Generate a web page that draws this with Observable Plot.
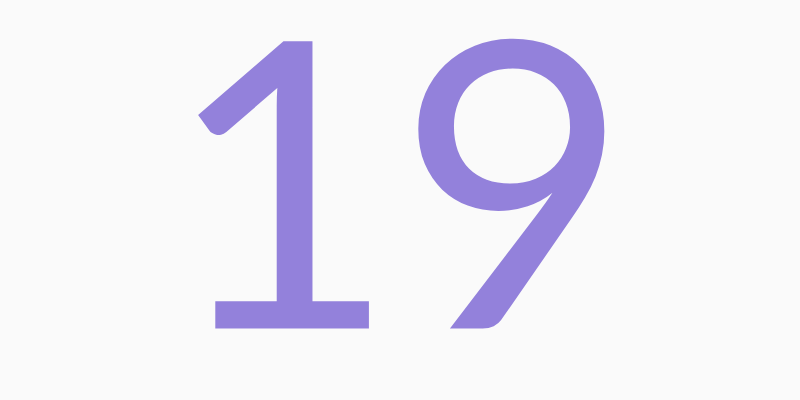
<!DOCTYPE html>
<html>
<head>
<meta charset="utf-8">
<script src="https://cdn.jsdelivr.net/npm/d3@7"></script>
<script src="https://cdn.jsdelivr.net/npm/@observablehq/plot@0.6"></script>
<style>
  html, body { margin: 0; padding: 0; background: #fafafa; }
</style>
</head>
<body>
<div id="chart"></div>
<script>
  // the single value shown
  const values = [19];

  const chart = Plot.plot({
    width: 800,
    height: 400,
    margin: 0,
    style: { background: "#fafafa", overflow: "visible" },
    x: { domain: [0, 1], axis: null },
    y: { domain: [0, 1], axis: null },
    marks: [
      Plot.text(values, {
        x: () => 0.496,
        y: () => 0.5,
        text: (d) => String(d),
        fontFamily: "Lato",
        fontSize: 400,
        fill: "#9381db",
        textAnchor: "middle",
        lineAnchor: "middle"
      })
    ]
  });
  document.getElementById("chart").appendChild(chart);
</script>
</body>
</html>
